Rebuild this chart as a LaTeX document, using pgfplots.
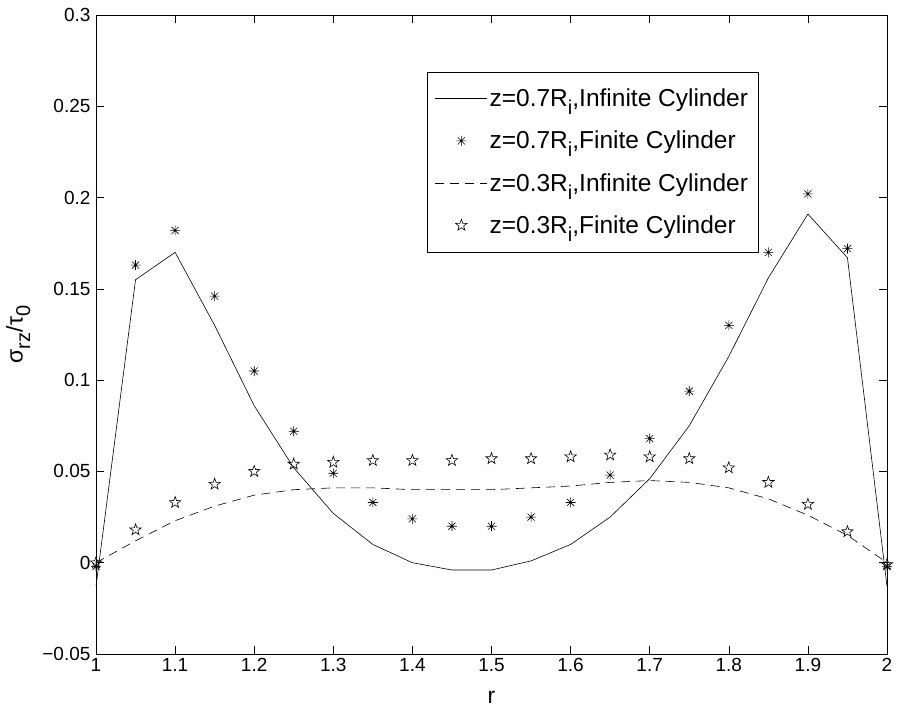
\documentclass[border=0pt]{standalone}
\usepackage{fontspec}
\setmainfont{Liberation Sans}
\usepackage{pgfplots}
\pgfplotsset{compat=1.18}
\newcommand\sub[1]{\raisebox{-0.32em}{\fontsize{20bp}{20bp}\selectfont #1}}
\pgfdeclareplotmark{mstar}{%
  \pgfpathmoveto{\pgfqpoint{-\pgfplotmarksize}{0pt}}\pgfpathlineto{\pgfqpoint{\pgfplotmarksize}{0pt}}%
  \pgfpathmoveto{\pgfqpoint{0pt}{-\pgfplotmarksize}}\pgfpathlineto{\pgfqpoint{0pt}{\pgfplotmarksize}}%
  \pgfpathmoveto{\pgfpointpolar{45}{\pgfplotmarksize}}\pgfpathlineto{\pgfpointpolar{225}{\pgfplotmarksize}}%
  \pgfpathmoveto{\pgfpointpolar{135}{\pgfplotmarksize}}\pgfpathlineto{\pgfpointpolar{315}{\pgfplotmarksize}}%
  \pgfusepathqstroke}
\pgfdeclareplotmark{pstar}{%
  \pgfpathmoveto{\pgfpointpolar{90}{\pgfplotmarksize}}%
  \pgfpathlineto{\pgfpointpolar{126}{0.4\pgfplotmarksize}}%
  \pgfpathlineto{\pgfpointpolar{162}{\pgfplotmarksize}}%
  \pgfpathlineto{\pgfpointpolar{198}{0.4\pgfplotmarksize}}%
  \pgfpathlineto{\pgfpointpolar{234}{\pgfplotmarksize}}%
  \pgfpathlineto{\pgfpointpolar{270}{0.4\pgfplotmarksize}}%
  \pgfpathlineto{\pgfpointpolar{306}{\pgfplotmarksize}}%
  \pgfpathlineto{\pgfpointpolar{342}{0.4\pgfplotmarksize}}%
  \pgfpathlineto{\pgfpointpolar{18}{\pgfplotmarksize}}%
  \pgfpathlineto{\pgfpointpolar{54}{0.4\pgfplotmarksize}}%
  \pgfpathclose\pgfusepathqstroke}
\begin{document}
\begin{tikzpicture}
\begin{axis}[
  scale only axis, width=791bp, height=639bp,
  xmin=1, xmax=2, ymin=-0.05, ymax=0.3,
  xtick={1,1.1,...,2.01},
  xticklabels={1,1.1,1.2,1.3,1.4,1.5,1.6,1.7,1.8,1.9,2},
  ytick={-0.05,0,0.05,0.1,0.15,0.2,0.25,0.3},
  yticklabels={−0.05,0,0.05,0.1,0.15,0.2,0.25,0.3},
  tick align=inside, major tick length=8bp,
  tick style={black, line width=0.6bp},
  axis line style={line width=0.8bp},
  font=\fontsize{19bp}{23bp}\selectfont,
  ticklabel style={font=\fontsize{19bp}{23bp}\selectfont},
  yticklabel style={xshift=-2bp},
  xticklabel style={yshift=-1bp},
  xlabel={r}, ylabel={σ\sub{rz}/τ\sub{0}},
  every axis x label/.style={at={(axis description cs:0.5,-0.0673)}, anchor=center, font=\fontsize{23bp}{27bp}\selectfont},
  every axis y label/.style={at={(axis description cs:-0.0985,0.5)}, anchor=center, rotate=90, font=\fontsize{23bp}{27bp}\selectfont},
  legend style={at={(axis cs:1.418,0.269)}, anchor=north west, draw=black, line width=0.8bp,
    font=\fontsize{24.5bp}{28bp}\selectfont, row sep=19bp, inner xsep=8bp, inner ysep=15bp,
    cells={anchor=west}},
  legend image code/.code={\draw[mark repeat=2,mark phase=2,#1] plot coordinates {(0bp,0bp) (26bp,0bp) (52bp,0bp)};},
  legend cell align=left,
]
\addplot[black, line width=0.6bp, no marks] coordinates {
(1,-0.013) (1.05,0.155) (1.1,0.170) (1.15,0.130) (1.2,0.086) (1.25,0.052)
(1.3,0.027) (1.35,0.010) (1.4,0.000) (1.45,-0.004) (1.5,-0.004) (1.55,0.001)
(1.6,0.010) (1.65,0.025) (1.7,0.046) (1.75,0.075) (1.8,0.113) (1.85,0.156)
(1.9,0.191) (1.95,0.167) (2,-0.013)};
\addlegendentry{z=0.7R\sub{i},Infinite Cylinder}
\addplot[black, only marks, mark=mstar, mark size=5bp, line width=0.6bp] coordinates {
(1,-0.002) (1.05,0.163) (1.1,0.182) (1.15,0.146) (1.2,0.105) (1.25,0.072)
(1.3,0.049) (1.35,0.033) (1.4,0.024) (1.45,0.020) (1.5,0.020) (1.55,0.025)
(1.6,0.033) (1.65,0.048) (1.7,0.068) (1.75,0.094) (1.8,0.130) (1.85,0.170)
(1.9,0.202) (1.95,0.172) (2,-0.002)};
\addlegendentry{z=0.7R\sub{i},Finite Cylinder}
\addplot[black, line width=0.6bp, no marks, dash pattern=on 9bp off 6bp] coordinates {
(1,0.000) (1.05,0.012) (1.1,0.023) (1.15,0.031) (1.2,0.037) (1.25,0.040)
(1.3,0.041) (1.35,0.041) (1.4,0.040) (1.45,0.040) (1.5,0.040) (1.55,0.041)
(1.6,0.042) (1.65,0.044) (1.7,0.045) (1.75,0.044) (1.8,0.041) (1.85,0.035)
(1.9,0.026) (1.95,0.015) (2,0.000)};
\addlegendentry{z=0.3R\sub{i},Infinite Cylinder}
\addplot[black, only marks, mark=pstar, mark size=6bp, line width=0.6bp] coordinates {
(1,0.000) (1.05,0.018) (1.1,0.033) (1.15,0.043) (1.2,0.050) (1.25,0.054)
(1.3,0.055) (1.35,0.056) (1.4,0.056) (1.45,0.056) (1.5,0.057) (1.55,0.057)
(1.6,0.058) (1.65,0.059) (1.7,0.058) (1.75,0.057) (1.8,0.052) (1.85,0.044)
(1.9,0.032) (1.95,0.017) (2,-0.001)};
\addlegendentry{z=0.3R\sub{i},Finite Cylinder}
\end{axis}
\path (-96bp,-57bp) rectangle (815bp,654bp);
\end{tikzpicture}
\end{document}
